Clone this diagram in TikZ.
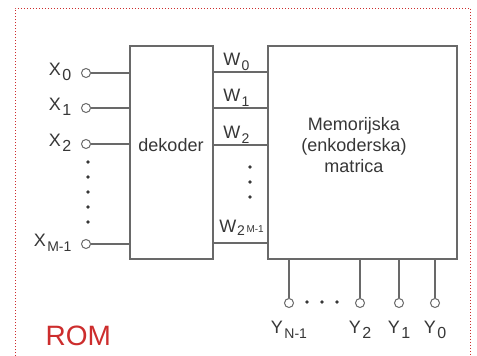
\documentclass[tikz,border=0pt]{standalone}
\usepackage{fontspec}
\setmainfont{Liberation Sans}
\usetikzlibrary{calc,positioning}

% signal name with a lowered index
\newcommand{\sig}[3]{#1\kern1.5pt\raisebox{-5pt}{\fontsize{#3}{#3}\selectfont #2}}

\begin{document}
\begin{tikzpicture}[x=1pt,y=-1pt,line width=1.25pt,
  wire/.style={draw=wiregray},
  pin/.style={circle,draw=wiregray,fill=white,line width=1pt,inner sep=0pt,minimum size=9pt},
  box/.style={draw=wiregray,minimum height=213pt,inner sep=0pt},
  lbl/.style={text=txtgray,font=\fontsize{18}{21}\selectfont,inner sep=0pt}]
% ROM: address decoder feeding the memory (encoder) matrix
\definecolor{wiregray}{RGB}{105,105,105}
\definecolor{txtgray}{RGB}{55,55,55}
\definecolor{romred}{RGB}{205,45,45}
\useasboundingbox (0,0) rectangle (477,356);
\fill[white] (0,0) rectangle (477,356);
\draw[romred,line width=1pt,dash pattern=on 1.2pt off 1.8pt]
  (15,356) -- (15,8) -- (470,8) -- (470,356);
% the two blocks
\node[box,minimum width=83pt] (dek) at (171.5,152.5) {};
\node[lbl] (dektxt) at (171,145) {dekoder};
\node[box,minimum width=189pt] (mat) at (362.5,152.5) {};
\node[lbl,align=center] (mattxt) at (354,145) {Memorijska\\(enkoderska)\\matrica};
% address inputs
\foreach \i/\y/\s/\f in {0/73/0/16, 1/108/1/16, 2/144/2/16, m/244/M-1/14} {
  \node[pin] (x\i) at (86,\y) {};
  \draw[wire] (x\i) -- (x\i -| dek.west);
  \node[lbl,anchor=base east] (xl\i) at ($(x\i.west)+(-9,2)$) {\sig{X}{\s}{\f}};
}
\foreach \y in {162,177,...,222} {
  \fill[txtgray] (88,\y) circle (1.9pt);
}
% word lines
\foreach \i/\y/\s in {0/72/0, 1/108/1, 2/145/2} {
  \coordinate (w\i) at (dek.east |- 0,\y);
  \draw[wire] (w\i) -- (w\i -| mat.west);
  \node[lbl,anchor=base west] (wl\i) at ($(w\i)+(9,-7)$) {\sig{W}{\s}{14}};
}
\coordinate (wm) at (dek.east |- 0,243);
\draw[wire] (wm) -- (wm -| mat.west);
\node[lbl,anchor=base west] (wlm) at ($(wm)+(5,-11)$)
  {W\kern1pt\raisebox{-3pt}{\fontsize{14}{14}\selectfont 2\kern1.5pt\raisebox{3pt}{\fontsize{10}{10}\selectfont M-1}}};
\foreach \y in {167,182,197} {
  \fill[txtgray] (250,\y) circle (1.9pt);
}
% data outputs
\foreach \i/\x/\s/\f in {n/289/N-1/14, 2/360/2/16, 1/399/1/16, 0/435/0/16} {
  \node[pin] (y\i) at (\x,303) {};
  \draw[wire] (y\i |- mat.south) -- (y\i);
  \node[lbl,anchor=base] (yl\i) at ($(y\i)+(0,30)$) {\sig{Y}{\s}{\f}};
}
\foreach \x in {307,322,337} {
  \fill[txtgray] (\x,302) circle (1.9pt);
}
\node[text=romred,font=\fontsize{28}{30}\selectfont,inner sep=0pt,anchor=base west] (rom) at (45,345) {ROM};
\end{tikzpicture}
\end{document}
